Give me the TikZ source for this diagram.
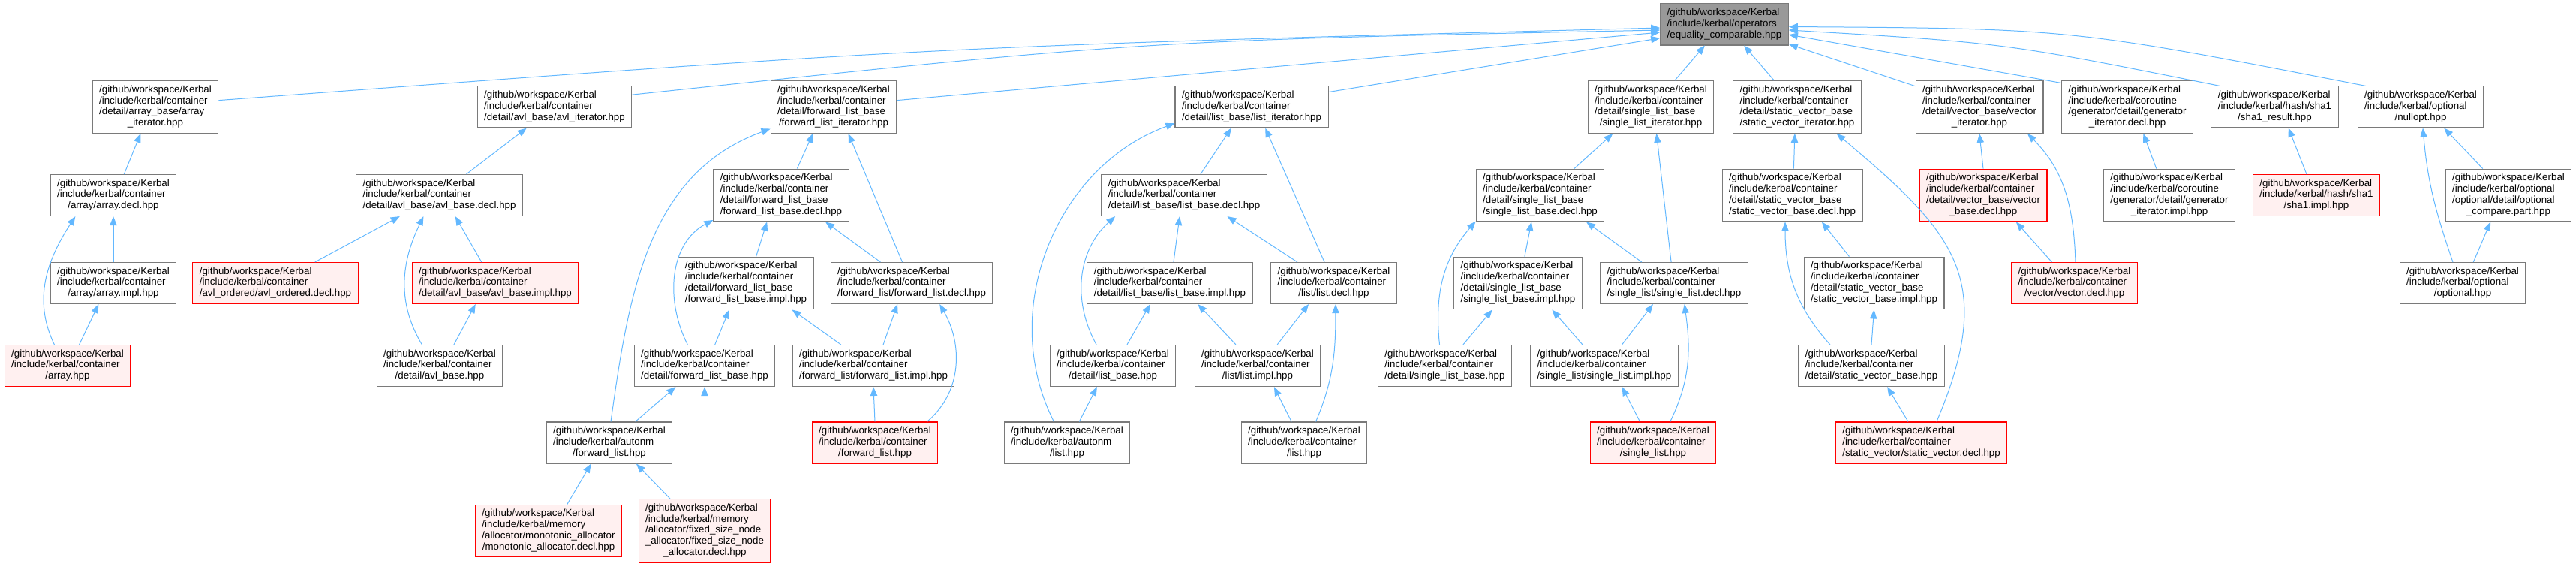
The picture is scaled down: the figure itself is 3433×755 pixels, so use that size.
\documentclass[tikz,border=0pt]{standalone}
\usepackage{fontspec}
\setmainfont{Liberation Sans}
\usepackage{tikz}
\usetikzlibrary{arrows.meta}

\definecolor{edgeblue}{HTML}{63B8FF}
\definecolor{boxgray}{HTML}{7A7A7A}
\definecolor{rootfill}{HTML}{999999}
\definecolor{hitfill}{HTML}{FFF0F0}

% file name: left lines, last line centred
\newcommand{\fname}[2]{\begin{tabular}{@{}l@{}}#1\\\multicolumn{1}{@{}c@{}}{#2}\end{tabular}}
\newcommand{\kgw}{/github/workspace/Kerbal}
\newcommand{\kinc}{/include/kerbal/container}

\begin{document}
\begin{tikzpicture}[x=0.75pt,y=-0.75pt]
\tikzstyle{every node}=[draw=boxgray,fill=white,line width=0.8pt,inner xsep=6.75pt,inner ysep=4pt,font=\fontsize{10}{11.1}\selectfont];
\tikzstyle{hit}=[draw=red,fill=hitfill];
\tikzstyle{rootbox}=[fill=rootfill];
\tikzstyle{dep}=[draw=edgeblue,line width=0.75pt,>={Triangle[length=9pt,width=7pt]}];
\useasboundingbox (0,0) rectangle (3433,755);

% root
\path (2298,32.5) node[rootbox] (eqc) {\fname{\kgw\\/include/kerbal/operators}{/equality\_comparable.hpp}};

% first row
\path (207,142.5) node (arrit) {\fname{\kgw\\\kinc\\/detail/array\_base/array}{\_iterator.hpp}};
\path (739,142.5) node (avlit) {\fname{\kgw\\\kinc}{/detail/avl\_base/avl\_iterator.hpp}};
\path (1111,142.5) node (flit) {\fname{\kgw\\\kinc\\/detail/forward\_list\_base}{/forward\_list\_iterator.hpp}};
\path (1668,142.5) node (lit) {\fname{\kgw\\\kinc}{/detail/list\_base/list\_iterator.hpp}};
\path (2200,142.5) node (slit) {\fname{\kgw\\\kinc\\/detail/single\_list\_base}{/single\_list\_iterator.hpp}};
\path (2395,142.5) node (svit) {\fname{\kgw\\\kinc\\/detail/static\_vector\_base}{/static\_vector\_iterator.hpp}};
\path (2638,142.5) node (vit) {\fname{\kgw\\\kinc\\/detail/vector\_base/vector}{\_iterator.hpp}};
\path (2835,142.5) node (genit) {\fname{\kgw\\/include/kerbal/coroutine\\/generator/detail/generator}{\_iterator.decl.hpp}};
\path (3031.5,142.5) node (sha1res) {\fname{\kgw\\/include/kerbal/hash/sha1}{/sha1\_result.hpp}};
\path (3226,142.5) node (nullopt) {\fname{\kgw\\/include/kerbal/optional}{/nullopt.hpp}};

% second row
\path (151,260) node (arrdecl) {\fname{\kgw\\\kinc}{/array/array.decl.hpp}};
\path (585.6,260) node (avldecl) {\fname{\kgw\\\kinc}{/detail/avl\_base/avl\_base.decl.hpp}};
\path (1041,260) node (flbdecl) {\fname{\kgw\\\kinc\\/detail/forward\_list\_base}{/forward\_list\_base.decl.hpp}};
\path (1578,260) node (lbdecl) {\fname{\kgw\\\kinc}{/detail/list\_base/list\_base.decl.hpp}};
\path (2052.5,260) node (slbdecl) {\fname{\kgw\\\kinc\\/detail/single\_list\_base}{/single\_list\_base.decl.hpp}};
\path (2388.5,260) node (svbdecl) {\fname{\kgw\\\kinc\\/detail/static\_vector\_base}{/static\_vector\_base.decl.hpp}};
\path (2643,260) node[hit] (vbdecl) {\fname{\kgw\\\kinc\\/detail/vector\_base/vector}{\_base.decl.hpp}};
\path (2891,260) node (genimpl) {\fname{\kgw\\/include/kerbal/coroutine\\/generator/detail/generator}{\_iterator.impl.hpp}};
\path (3087,260) node[hit] (sha1impl) {\fname{\kgw\\/include/kerbal/hash/sha1}{/sha1.impl.hpp}};
\path (3343,260) node (optcmp) {\fname{\kgw\\/include/kerbal/optional\\/optional/detail/optional}{\_compare.part.hpp}};

% third row
\path (151,377) node (arrimpl) {\fname{\kgw\\\kinc}{/array/array.impl.hpp}};
\path (367,377) node[hit] (avlord) {\fname{\kgw\\\kinc}{/avl\_ordered/avl\_ordered.decl.hpp}};
\path (660,377) node[hit] (avlimpl) {\fname{\kgw\\\kinc}{/detail/avl\_base/avl\_base.impl.hpp}};
\path (994,377) node (flbimpl) {\fname{\kgw\\\kinc\\/detail/forward\_list\_base}{/forward\_list\_base.impl.hpp}};
\path (1215,377) node (fldecl) {\fname{\kgw\\\kinc}{/forward\_list/forward\_list.decl.hpp}};
\path (1559,377) node (lbimpl) {\fname{\kgw\\\kinc}{/detail/list\_base/list\_base.impl.hpp}};
\path (1777.5,377) node (ldecl) {\fname{\kgw\\\kinc}{/list/list.decl.hpp}};
\path (2023,377) node (slbimpl) {\fname{\kgw\\\kinc\\/detail/single\_list\_base}{/single\_list\_base.impl.hpp}};
\path (2231,377) node (sldecl) {\fname{\kgw\\\kinc}{/single\_list/single\_list.decl.hpp}};
\path (2497.5,377) node (svbimpl) {\fname{\kgw\\\kinc\\/detail/static\_vector\_base}{/static\_vector\_base.impl.hpp}};
\path (2764.5,377) node[hit] (vdecl) {\fname{\kgw\\\kinc}{/vector/vector.decl.hpp}};
\path (3282,377) node (opt) {\fname{\kgw\\/include/kerbal/optional}{/optional.hpp}};

% fourth row
\path (90,487) node[hit] (arr) {\fname{\kgw\\\kinc}{/array.hpp}};
\path (586,487) node (avlb) {\fname{\kgw\\\kinc}{/detail/avl\_base.hpp}};
\path (939,487) node (flb) {\fname{\kgw\\\kinc}{/detail/forward\_list\_base.hpp}};
\path (1164,487) node (flimpl) {\fname{\kgw\\\kinc}{/forward\_list/forward\_list.impl.hpp}};
\path (1483,487) node (lb) {\fname{\kgw\\\kinc}{/detail/list\_base.hpp}};
\path (1676,487) node (limpl) {\fname{\kgw\\\kinc}{/list/list.impl.hpp}};
\path (1925.5,487) node (slb) {\fname{\kgw\\\kinc}{/detail/single\_list\_base.hpp}};
\path (2138,487) node (slimpl) {\fname{\kgw\\\kinc}{/single\_list/single\_list.impl.hpp}};
\path (2494,487) node (svb) {\fname{\kgw\\\kinc}{/detail/static\_vector\_base.hpp}};

% fifth row
\path (812,589.5) node (aufl) {\fname{\kgw\\/include/kerbal/autonm}{/forward\_list.hpp}};
\path (1166,589.5) node[hit] (fl) {\fname{\kgw\\\kinc}{/forward\_list.hpp}};
\path (1422,589.5) node (aul) {\fname{\kgw\\/include/kerbal/autonm}{/list.hpp}};
\path (1738,589.5) node (lst) {\fname{\kgw\\\kinc}{/list.hpp}};
\path (2203,589.5) node[hit] (sl) {\fname{\kgw\\\kinc}{/single\_list.hpp}};
\path (2560.5,589.5) node[hit] (svdecl) {\fname{\kgw\\\kinc}{/static\_vector/static\_vector.decl.hpp}};

% last row
\path (731,707) node[hit] (mono) {\fname{\kgw\\/include/kerbal/memory\\/allocator/monotonic\_allocator}{/monotonic\_allocator.decl.hpp}};
\path (939,707) node[hit] (fsn) {\fname{\kgw\\/include/kerbal/memory\\/allocator/fixed\_size\_node\\\_allocator/fixed\_size\_node}{\_allocator.decl.hpp}};

% includes of the root
\draw[dep,<-] (eqc.183.5) .. controls (1250,62) .. (arrit.6);
\draw[dep,<-] (eqc.185.5) .. controls (1525,54) .. (avlit.9);
\draw[dep,<-] (eqc.187) -- (flit.6);
\draw[dep,<-] (eqc.192) -- (lit.11);
\draw[dep,<-] (eqc.227) -- (slit.48);
\draw[dep,<-] (eqc.-47) -- (svit.131);
\draw[dep,<-] (eqc.-17) -- (vit.162);
\draw[dep,<-] (eqc.-9) -- (genit.160);
\draw[dep,<-] (eqc.-5) .. controls (2671,57) .. (sha1res.159);
\draw[dep,<-] (eqc.-2.5) .. controls (2760,38) .. (nullopt.159);

% array, avl
\draw[dep,<-] (arrit.-119) -- (arrdecl.63);
\draw[dep,<-] (arrdecl.south) -- (arrimpl.north);
\draw[dep,<-] (arrdecl.-151) to[out=237,in=116] (arr.122);
\draw[dep,<-] (arrimpl.-125) -- (arr.61);
\draw[dep,<-] (avlit.-143) -- (avldecl.38);
\draw[dep,<-] (avldecl.-152) -- (avlord.28);
\draw[dep,<-] (avldecl.-53) -- (avlimpl.123);
\draw[dep,<-] (avldecl.-127) to[out=244,in=121] (avlb.130);
\draw[dep,<-] (avlimpl.-133) -- (avlb.56);

% forward_list
\draw[dep,<-] (flit.-128) -- (flbdecl.59);
\draw[dep,<-] (flit.-61) -- (fldecl.114);
\draw[dep,<-] (flit.-161) to[out=200,in=82] (aufl.86);
\draw[dep,<-] (flbdecl.-118) -- (flbimpl.69);
\draw[dep,<-] (flbdecl.-160) to[out=208,in=117] (flb.129);
\draw[dep,<-] (flbdecl.-31) -- (fldecl.146);
\draw[dep,<-] (flbimpl.-122) -- (flb.64);
\draw[dep,<-] (flbimpl.-30) -- (flimpl.147);
\draw[dep,<-] (fldecl.-124) -- (flimpl.65);
\draw[dep,<-] (fldecl.-37) to[out=-60,in=40] (fl.22);
\draw[dep,<-] (flimpl.south) -- (fl.north);
\draw[dep,<-] (flb.-144) -- (aufl.39);
\draw[dep,<-] (flb.south) -- (fsn.north);
\draw[dep,<-] (aufl.-131) -- (mono.55);
\draw[dep,<-] (aufl.-38) -- (fsn.137);

% list
\draw[dep,<-] (lit.-134) -- (lbdecl.52);
\draw[dep,<-] (lit.-57) -- (ldecl.114);
\draw[dep,<-] (lit.-168) to[out=200,in=117] (aul.122);
\draw[dep,<-] (lbdecl.-102) -- (lbimpl.80);
\draw[dep,<-] (lbdecl.-163) to[out=222,in=119] (lb.128);
\draw[dep,<-] (lbdecl.-26) -- (ldecl.150);
\draw[dep,<-] (lbimpl.-133) -- (lb.56);
\draw[dep,<-] (lbimpl.-37) -- (limpl.136);
\draw[dep,<-] (ldecl.-140) -- (limpl.47);
\draw[dep,<-] (ldecl.-85) to[out=-90,in=67] (lst.61);
\draw[dep,<-] (limpl.-52) -- (lst.121);
\draw[dep,<-] (lb.-127) -- (aul.60);

% single_list
\draw[dep,<-] (slit.-145) -- (slbdecl.38);
\draw[dep,<-] (slit.-78) -- (sldecl.98);
\draw[dep,<-] (slbdecl.-108) -- (slbimpl.76);
\draw[dep,<-] (slbdecl.-158) to[out=229,in=96] (slb.104);
\draw[dep,<-] (slbdecl.-30) -- (sldecl.147);
\draw[dep,<-] (slbimpl.-134) -- (slb.49);
\draw[dep,<-] (slbimpl.-38) -- (slimpl.136);
\draw[dep,<-] (sldecl.-135) -- (slimpl.50);
\draw[dep,<-] (sldecl.-64) to[out=-82,in=64] (sl.51);
\draw[dep,<-] (slimpl.-50) -- (sl.122);

% static_vector, vector
\draw[dep,<-] (svit.-95) -- (svbdecl.87);
\draw[dep,<-] (svit.-34) to[out=-40,in=67,looseness=1.3] (svdecl.54);
\draw[dep,<-] (svbdecl.-105) to[out=-90,in=132] (svb.153);
\draw[dep,<-] (svbdecl.-42) -- (svbimpl.133);
\draw[dep,<-] (svbimpl.south) -- (svb.north);
\draw[dep,<-] (svb.-53) -- (svdecl.122);
\draw[dep,<-] (vit.south) -- (vbdecl.north);
\draw[dep,<-] (vit.-29) to[out=-45,in=92] (vdecl.87);
\draw[dep,<-] (vbdecl.-39) -- (vdecl.137);

% coroutine, hash, optional
\draw[dep,<-] (genit.-59) -- (genimpl.116);
\draw[dep,<-] (sha1res.-57) -- (sha1impl.115);
\draw[dep,<-] (nullopt.-42) -- (optcmp.134);
\draw[dep,<-] (nullopt.-84) to[out=-85,in=109] (opt.115);
\draw[dep,<-] (optcmp.-124) -- (opt.63);
\end{tikzpicture}
\end{document}
